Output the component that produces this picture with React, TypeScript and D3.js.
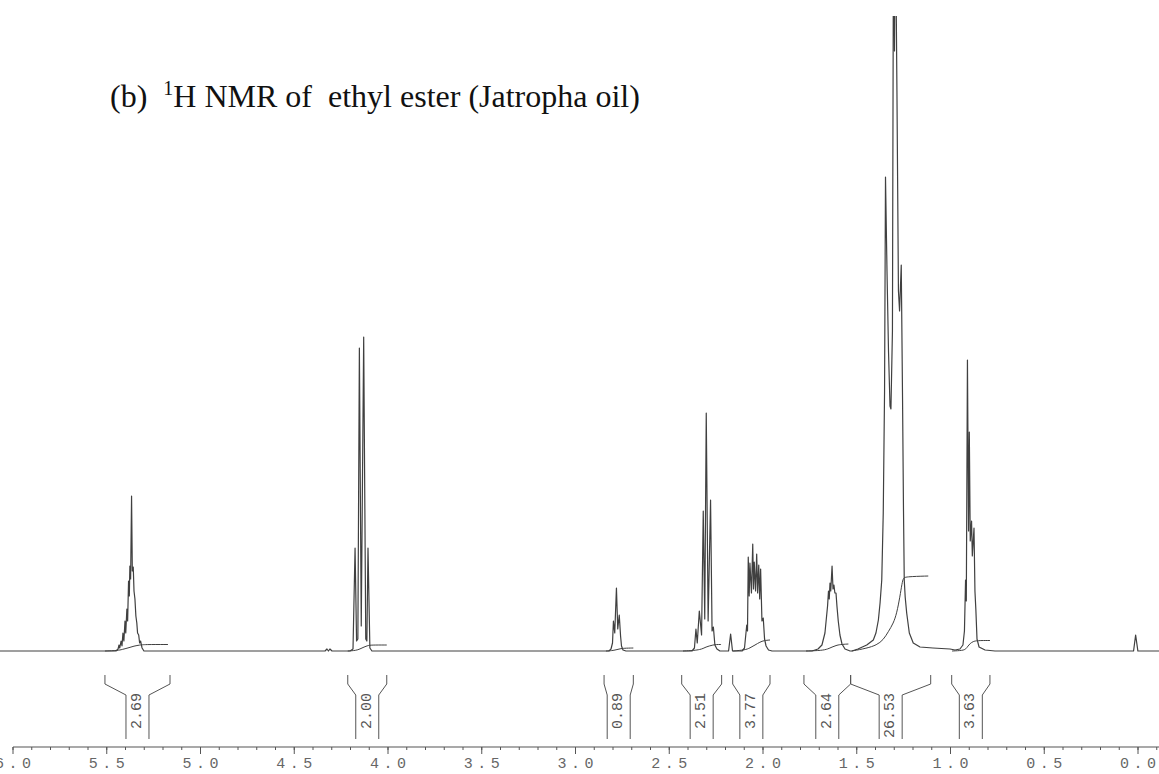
import React, { useEffect, useRef } from "react";
import * as d3 from "d3";

// traced 1H NMR trace, [ppm, intensity]
const spectrum: [number, number][] = [
  [6.07, 0],
  [5.448, 0], [5.437, 2], [5.432, 6], [5.428, 3], [5.421, 10], [5.416, 5], [5.411, 18], [5.406, 10],
  [5.4, 30], [5.396, 18], [5.39, 42], [5.386, 30], [5.381, 70], [5.377, 55], [5.374, 85], [5.37, 72],
  [5.365, 155], [5.361, 80], [5.356, 84], [5.352, 60], [5.347, 52], [5.342, 35], [5.337, 28], [5.333, 18],
  [5.327, 16], [5.322, 8], [5.317, 10], [5.309, 3], [5.299, 0],
  [4.333, 0], [4.323, 2], [4.315, 0], [4.307, 2], [4.296, 0],
  [4.2, 0], [4.184, 2], [4.173, 103], [4.165, 10], [4.158, 12], [4.15, 303], [4.14, 25], [4.127, 314],
  [4.116, 12], [4.11, 10], [4.104, 103], [4.094, 3], [4.083, 0],
  [2.819, 0], [2.808, 2], [2.8, 8], [2.795, 30], [2.788, 18], [2.779, 63], [2.772, 22], [2.764, 36],
  [2.757, 15], [2.752, 5], [2.744, 1], [2.728, 0],
  [2.376, 0], [2.363, 3], [2.355, 22], [2.348, 8], [2.337, 40], [2.325, 16], [2.316, 140], [2.308, 32],
  [2.3, 238], [2.29, 30], [2.277, 151], [2.269, 20], [2.262, 24], [2.254, 6], [2.243, 2], [2.227, 0],
  [2.181, 0], [2.17, 17], [2.16, 0],
  [2.109, 0], [2.096, 3], [2.084, 26], [2.08, 20], [2.076, 94], [2.071, 55], [2.067, 88], [2.059, 58],
  [2.052, 107], [2.048, 62], [2.044, 89], [2.037, 60], [2.031, 97], [2.026, 58], [2.02, 86], [2.015, 52],
  [2.01, 82], [2.003, 30], [1.996, 33], [1.989, 12], [1.981, 5], [1.968, 1], [1.949, 0],
  [1.736, 0], [1.704, 2], [1.683, 6], [1.667, 18], [1.653, 45], [1.648, 60], [1.644, 52], [1.64, 68],
  [1.636, 60], [1.629, 85], [1.624, 62], [1.619, 66], [1.614, 58], [1.608, 58], [1.603, 45], [1.596, 30],
  [1.587, 16], [1.576, 7], [1.56, 2], [1.533, 0],
  [1.523, 0], [1.491, 2], [1.444, 6], [1.409, 11], [1.395, 18], [1.382, 31], [1.373, 48], [1.364, 71],
  [1.356, 138], [1.349, 260], [1.344, 474], [1.336, 380], [1.328, 300], [1.32, 245], [1.315, 242],
  [1.307, 320], [1.301, 760], [1.296, 600], [1.292, 760], [1.283, 560], [1.275, 360], [1.269, 340],
  [1.26, 386], [1.253, 250], [1.248, 140], [1.244, 71], [1.239, 54], [1.231, 38], [1.217, 18], [1.196, 8],
  [1.16, 4], [1.091, 3], [1.0, 2],
  [0.973, 1], [0.947, 2], [0.931, 6], [0.923, 20], [0.917, 71], [0.913, 50], [0.907, 291], [0.901, 120],
  [0.897, 219], [0.892, 110], [0.885, 130], [0.881, 95], [0.872, 123], [0.867, 60], [0.862, 41],
  [0.856, 12], [0.845, 4], [0.813, 1], [0.76, 0],
  [0.021, 0], [0.01, 16], [-0.002, 0],
  [-0.12, 0],
];

// integral curves, [ppm, height]
const integralTraces: [number, number][][] = [
  [[5.507, 0], [5.437, 0.5], [5.416, 1.5], [5.384, 3], [5.352, 5], [5.32, 6], [5.299, 6.5], [5.171, 6.5]],
  [[4.212, 0], [4.168, 0.5], [4.147, 2], [4.125, 4], [4.104, 5.5], [4.088, 6], [4.004, 6]],
  [[2.835, 0], [2.803, 0.3], [2.781, 1.2], [2.76, 2.2], [2.739, 2.8], [2.689, 3]],
  [[2.424, 0], [2.365, 0.5], [2.333, 1.5], [2.317, 2.5], [2.301, 4], [2.285, 5], [2.264, 6], [2.248, 6.5], [2.221, 6.5]],
  [[2.157, 0], [2.093, 1], [2.067, 3], [2.04, 6], [2.013, 9], [1.992, 10.5], [1.96, 11]],
  [[1.768, 0], [1.683, 0.5], [1.651, 2], [1.629, 4], [1.608, 5.5], [1.587, 6.5], [1.542, 7]],
  [[1.524, 0], [1.444, 2.7], [1.391, 6], [1.356, 11], [1.329, 19.3], [1.302, 27.7], [1.284, 37.7],
    [1.267, 54.3], [1.256, 67.7], [1.249, 72.7], [1.24, 74.3], [1.116, 75]],
  [[0.989, 0], [0.931, 0.5], [0.915, 2], [0.904, 5], [0.893, 7.5], [0.877, 9.5], [0.856, 10.5], [0.787, 10.5]],
];

const integralLabels = ["2.69", "2.00", "0.89", "2.51", "3.77", "2.64", "26.53", "3.63"];
const integralRanges: [number, number][] = [
  [5.507, 5.16], [4.212, 4.004], [2.845, 2.689], [2.431, 2.218],
  [2.159, 1.96], [1.779, 1.53], [1.53, 1.103], [0.991, 0.787],
];

const majorTicks = [6.0, 5.5, 5.0, 4.5, 4.0, 3.5, 3.0, 2.5, 2.0, 1.5, 1.0, 0.5, 0.0];
const tickLabels = ["6.0", "5.5", "5.0", "4.5", "4.0", "3.5", "3.0", "2.5", "2.0", "1.5", "1.0", "0.5", "0.0"];

const App: React.FC = () => {
  const svgRef = useRef<SVGSVGElement | null>(null);

  useEffect(() => {
    if (!svgRef.current) return;
    const width = 1159;
    const height = 774;
    const axisY = 747;

    const svg = d3.select(svgRef.current);
    svg.selectAll("*").remove();
    svg.attr("width", width).attr("height", height);

    const x = d3.scaleLinear().domain([6, 0]).range([12.5, 1137.5]);
    const y = d3.scaleLinear().domain([0, 635]).range([651, 16]);

    svg.append("defs")
      .append("clipPath")
      .attr("id", "plotClip")
      .append("rect")
      .attr("x", 0)
      .attr("y", 16)
      .attr("width", width)
      .attr("height", height - 16);

    // title
    const title = svg.append("text")
      .attr("x", 110)
      .attr("y", 107)
      .attr("font-family", "'Liberation Serif', 'Times New Roman', serif")
      .attr("font-size", 32)
      .attr("fill", "#111")
      .style("white-space", "pre");
    title.append("tspan").text("(b)  ");
    title.append("tspan").attr("font-size", 20).attr("dy", -12).text("1");
    title.append("tspan").attr("dy", 12).text("H NMR of  ethyl ester (Jatropha oil)");

    const line = d3.line<[number, number]>()
      .x((d) => x(d[0]))
      .y((d) => y(d[1]));

    // spectrum
    svg.append("path")
      .datum(spectrum)
      .attr("clip-path", "url(#plotClip)")
      .attr("d", line)
      .attr("fill", "none")
      .attr("stroke", "#404040")
      .attr("stroke-width", 1.2)
      .attr("stroke-linejoin", "round");

    // integral curves
    const integralLine = d3.line<[number, number]>()
      .x((d) => x(d[0]))
      .y((d) => y(d[1]))
      .curve(d3.curveBasis);

    svg.append("g")
      .selectAll("path")
      .data(integralTraces)
      .enter()
      .append("path")
      .attr("d", (d) => integralLine(d))
      .attr("fill", "none")
      .attr("stroke", "#404040")
      .attr("stroke-width", 1);

    // integral brackets + values
    const half = 11.5;
    const brackets = svg.append("g")
      .selectAll("g")
      .data(integralRanges)
      .enter()
      .append("g");

    brackets.append("path")
      .attr("d", (d) => {
        const xl = x(d[0]);
        const xr = x(d[1]);
        const cx = (xl + xr) / 2;
        return `M${xl},675V684L${cx - half},695V739M${xr},675V684L${cx + half},695V739`;
      })
      .attr("fill", "none")
      .attr("stroke", "#555")
      .attr("stroke-width", 1);

    brackets.append("text")
      .attr("transform", (d) => `translate(${(x(d[0]) + x(d[1])) / 2},693) rotate(-90)`)
      .attr("text-anchor", "end")
      .attr("dominant-baseline", "central")
      .attr("font-family", "'Liberation Mono', 'DejaVu Sans Mono', monospace")
      .attr("font-size", 15)
      .attr("fill", "#555")
      .text((_, i) => integralLabels[i]);

    // axis
    const axisG = svg.append("g").attr("transform", `translate(0,${axisY})`);
    axisG.append("line")
      .attr("x1", 13)
      .attr("x2", width)
      .attr("stroke", "#555")
      .attr("stroke-width", 1.2);

    const minorTicks = d3.range(-1, 61).map((i) => i / 10);
    const minorAxis = axisG.append("g")
      .call(d3.axisBottom(x).tickValues(minorTicks).tickSize(3).tickFormat(() => ""));
    minorAxis.select(".domain").remove();

    const majorAxis = axisG.append("g")
      .call(
        d3.axisBottom(x)
          .tickValues(majorTicks)
          .tickSize(7)
          .tickPadding(3)
          .tickFormat((_, i) => tickLabels[i])
      );
    majorAxis.select(".domain").remove();
    axisG.selectAll(".tick line").attr("stroke", "#555");
    majorAxis.selectAll(".tick text")
      .attr("font-family", "'Liberation Mono', 'DejaVu Sans Mono', monospace")
      .attr("font-size", 15)
      .attr("textLength", 36)
      .attr("lengthAdjust", "spacing")
      .attr("fill", "#666");
  }, []);

  return (
    <svg
      ref={svgRef}
      style={{ position: "absolute", left: 0, top: 0, background: "#fff" }}
    ></svg>
  );
};

export default App;
